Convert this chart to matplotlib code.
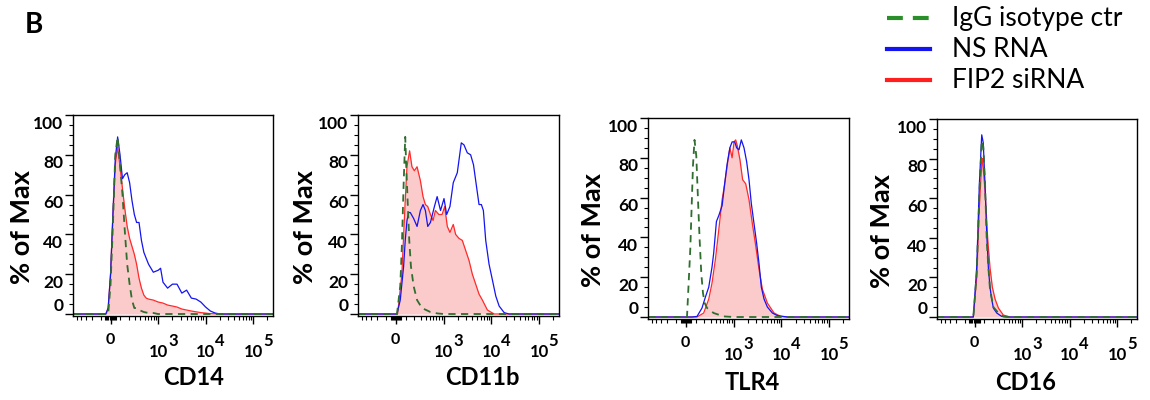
import numpy as np
import matplotlib.pyplot as plt
from matplotlib.lines import Line2D

plt.rcParams['font.family'] = ['Lato', 'DejaVu Sans']

# x = fluorescence intensity, y = % of max
# CD14
cd14_igg_x = [-600, -23, 0, 23, 46, 70, 95, 122, 149, 179, 212, 247, 285, 325, 372, 482, 615, 782, 990, 262144]
cd14_igg_y = [0, 0, 15, 45, 80, 89, 75, 60, 42, 25, 15, 7, 3, 3, 2, 1, 0.5, 0.5, 0, 0]
cd14_ns_x = [-600, -46, -23, 0, 23, 46, 70, 95, 122, 149, 179, 212, 247, 285, 325, 372, 424, 482, 544, 615,
             782, 1000, 1120, 1260, 1580, 2000, 2500, 3160, 3980, 5010, 6310, 7940, 10000, 12600, 15800, 20000, 262144]
cd14_ns_y = [0, 0, 3, 20, 50, 78, 89, 80, 68, 70, 71, 66, 57, 50, 46, 46, 37, 31, 28, 25,
             21, 22, 23, 16, 13, 15, 15, 10.5, 12, 8, 7.5, 6, 3.5, 1.5, 0.5, 0, 0]
cd14_fip_x = [-600, -46, -23, 0, 23, 46, 70, 95, 122, 149, 179, 212, 247, 285, 325, 372, 424, 482, 544, 615,
              782, 1000, 1260, 1580, 2000, 2500, 3160, 5010, 7940, 12600, 20000, 262144]
cd14_fip_y = [0, 0, 3, 20, 50, 75, 84, 74, 63, 53, 44, 38, 34, 30, 25, 18, 13, 9.5, 8, 7.5,
              7, 6, 5.5, 4.5, 4, 3.5, 2.5, 1.5, 0.7, 0.2, 0, 0]

# CD11b
cd11b_igg_x = [-600, 12, 44, 60, 78, 95, 106, 121, 140, 160, 195, 244, 326, 514, 723, 1000, 262144]
cd11b_igg_y = [0, 0, 14, 34, 65, 89, 74, 57, 37, 24, 14, 7, 3, 1, 0.3, 0, 0]
cd11b_ns_x = [-600, 12, 44, 78, 95, 114, 133, 152, 195, 244, 298, 346, 394, 447, 514, 630, 723, 856, 1016, 1156,
              1358, 1596, 1941, 2355, 2679, 3148, 3698, 4246, 4721, 5546, 6209, 6839, 7656, 8995, 10593, 12445,
              14622, 18621, 23550, 262144]
cd11b_ns_y = [0, 0, 7, 24, 37, 47, 51, 51, 48, 44, 52, 55, 52, 44, 46, 54, 59, 52, 58, 50,
              54, 66, 71, 86, 85, 81, 80, 75, 67, 55, 55, 52, 37, 25, 17, 9,
              4, 0.7, 0, 0]
cd11b_fip_x = [-600, 18, 60, 95, 114, 144, 173, 205, 244, 298, 346, 394, 447, 514, 589, 663, 786, 924, 1050, 1194,
               1358, 1596, 1791, 2104, 2472, 2904, 3412, 4018, 4721, 5546, 6516, 8299, 11482, 262144]
cd11b_fip_y = [0, 0, 20, 57, 74, 82, 74, 72, 74, 67, 59, 55, 54, 50, 47, 52, 50, 50, 54, 44,
               41, 45, 40, 38, 37, 32, 27, 20, 15, 10, 7, 2, 0, 0]

# TLR4
tlr4_igg_x = [-600, 12, 44, 71, 87, 106, 125, 144, 164, 186, 209, 244, 358, 609, 1000, 262144]
tlr4_igg_y = [0, 0, 34, 76, 89, 81, 59, 39, 22, 12, 7, 4.5, 2, 0.3, 0, 0]
tlr4_ns_x = [-600, 60, 114, 173, 219, 270, 326, 358, 416, 472, 560, 630, 723, 827, 924, 1050, 1156, 1294, 1449,
             1652, 1879, 2104, 2355, 2679, 3048, 3412, 3820, 4355, 5117, 6516, 8299, 13490, 262144]
tlr4_ns_y = [0, 0, 0.3, 4.5, 10, 15, 25, 32, 48, 51, 56, 66, 77, 85, 88, 88, 85, 84, 89,
             85, 78, 69, 57, 47, 37, 27, 15, 9, 5, 2, 0.7, 0, 0]
tlr4_fip_x = [-600, 114, 195, 270, 326, 394, 472, 560, 630, 723, 827, 924, 1016, 1102, 1194, 1358, 1545, 1791,
              2104, 2472, 2904, 3412, 4018, 5117, 7063, 9750, 13000, 262144]
tlr4_fip_y = [0, 0, 2, 9, 17, 29, 44, 59, 66, 76, 85, 80, 88, 89, 86, 79, 69, 67,
              59, 47, 36, 24, 14, 7, 2, 0.3, 0, 0]

# CD16
cd16_igg_x = [-600, -12, 21, 47, 71, 87, 106, 125, 144, 164, 209, 287, 378, 540, 262144]
cd16_igg_y = [0, 0, 22, 62, 89, 86, 68, 39, 25, 14, 5, 2, 0.3, 0, 0]
cd16_ns_x = [-600, -12, 21, 47, 71, 87, 106, 125, 144, 164, 186, 209, 260, 346, 455, 262144]
cd16_ns_y = [0, 0, 25, 67, 92, 88, 67, 42, 25, 15, 9, 4.5, 2, 0.3, 0, 0]
cd16_fip_x = [-600, -12, 21, 47, 71, 78, 106, 137, 164, 195, 234, 287, 378, 540, 262144]
cd16_fip_y = [0, 0, 20, 55, 78, 80, 64, 39, 25, 15, 9, 4.5, 1, 0, 0]

markers = ['CD14', 'CD11b', 'TLR4', 'CD16']
legend_labels = ['IgG isotype ctr', 'NS RNA', 'FIP2 siRNA']
y_ticks = [0, 20, 40, 60, 80, 100]
x_decades = [3, 4, 5]

panels = [
    (cd14_igg_x, cd14_igg_y, cd14_ns_x, cd14_ns_y, cd14_fip_x, cd14_fip_y),
    (cd11b_igg_x, cd11b_igg_y, cd11b_ns_x, cd11b_ns_y, cd11b_fip_x, cd11b_fip_y),
    (tlr4_igg_x, tlr4_igg_y, tlr4_ns_x, tlr4_ns_y, tlr4_fip_x, tlr4_fip_y),
    (cd16_igg_x, cd16_igg_y, cd16_ns_x, cd16_ns_y, cd16_fip_x, cd16_fip_y),
]

# layout (figure fractions) and label spots
boxes = [[0.0635, 0.21, 0.1739, 0.5025],
         [0.3113, 0.21, 0.1748, 0.5025],
         [0.5635, 0.2025, 0.1748, 0.5025],
         [0.8148, 0.2025, 0.1739, 0.50]]
xlabel_pos = [(0.605, -0.25), (0.617, -0.25), (0.517, -0.26), (0.445, -0.26)]
ylabel_x = [-0.255, -0.264, -0.274, -0.275]

GREEN = '#2f6e2f'
BLUE = '#1414f0'
RED = '#ff2b2b'
PINK = '#fbcaca'


# biexponential-like display (arcsinh)
def fwd(x):
    return np.arcsinh(np.asarray(x, dtype=float) / 200.0) / np.log(10)


def inv(u):
    return 200.0 * np.sinh(np.asarray(u, dtype=float) * np.log(10))


minor_x = ([-500, -400, -300, -200, -100] + list(range(-50, 60, 10))
           + list(range(100, 1000, 100)) + list(range(2000, 10000, 1000))
           + list(range(20000, 100000, 10000)) + [200000])

fig = plt.figure(figsize=(11.5, 4), dpi=100)

for i, (gx, gy, bx, by, rx, ry) in enumerate(panels):
    ax = fig.add_axes(boxes[i])
    ax.set_xscale('function', functions=(fwd, inv))

    ax.fill_between(rx, ry, 0, color=PINK, lw=0)
    ax.plot(rx, ry, color=RED, lw=0.9)
    ax.plot(bx, by, color=BLUE, lw=0.9)
    ax.plot(gx, gy, color=GREEN, lw=1.3, ls=(0, (4, 3)))

    ax.set_xlim(-600, 262144)
    ax.set_ylim(-1, 100)

    ax.set_xticks([0, 1e3, 1e4, 1e5])
    ax.set_xticks(minor_x, minor=True)
    ax.set_yticks(y_ticks)
    ax.set_yticks(np.arange(0, 101, 5), minor=True)
    ax.tick_params(which='major', direction='out', length=6, width=1)
    ax.tick_params(which='minor', direction='out', length=3, width=0.8)
    ax.tick_params(labelbottom=False, labelleft=False)
    for s in ax.spines.values():
        s.set_linewidth(1)

    # x tick labels: 0 and 10^n with a full size exponent
    xt = ax.get_xaxis_transform()
    ax.annotate('0', xy=(0, 0), xycoords=xt, xytext=(0, -12.5), textcoords='offset points',
                ha='center', va='top', fontsize=11.5, fontweight='bold')
    for d in x_decades:
        ax.annotate('10', xy=(10 ** d, 0), xycoords=xt, xytext=(0, -20.5), textcoords='offset points',
                    ha='center', va='top', fontsize=12, fontweight='bold')
        ax.annotate(str(d), xy=(10 ** d, 0), xycoords=xt, xytext=(7, -12), textcoords='offset points',
                    ha='left', va='top', fontsize=12, fontweight='bold')

    # y tick labels hang just below their ticks, 0 sits above
    yt = ax.get_yaxis_transform()
    for v in y_ticks:
        ax.annotate(str(v), xy=(0, v), xycoords=yt, xytext=(-7, -0.5 if v else 0), textcoords='offset points',
                    ha='right', va='top' if v else 'bottom', fontsize=12.5, fontweight='bold')

    ax.set_xlabel(markers[i], fontsize=17, fontweight='bold')
    ax.xaxis.set_label_coords(*xlabel_pos[i])
    ax.set_ylabel('% of Max', fontsize=19.5, fontweight='bold', va='center')
    ax.yaxis.set_label_coords(ylabel_x[i], 0.44)

fig.text(25 / 1150, 1 - 12 / 400, 'B', fontsize=20, fontweight='bold', va='top')

# legend in the top right corner
leg_y = [1 - 18.3 / 400, 1 - 49.3 / 400, 1 - 80 / 400]
leg_styles = [dict(color='#2a8f2a', ls=(0, (3.8, 2.4))), dict(color='#1414f0'), dict(color='#ff1f1f')]
for yy, lab, st in zip(leg_y, legend_labels, leg_styles):
    fig.add_artist(Line2D([887 / 1150, 930 / 1150], [yy, yy], transform=fig.transFigure, lw=3, **st))
    fig.text(952 / 1150, yy - 7.5 / 400, lab, fontsize=19, va='baseline')

fig.savefig('out.png', dpi=100)
